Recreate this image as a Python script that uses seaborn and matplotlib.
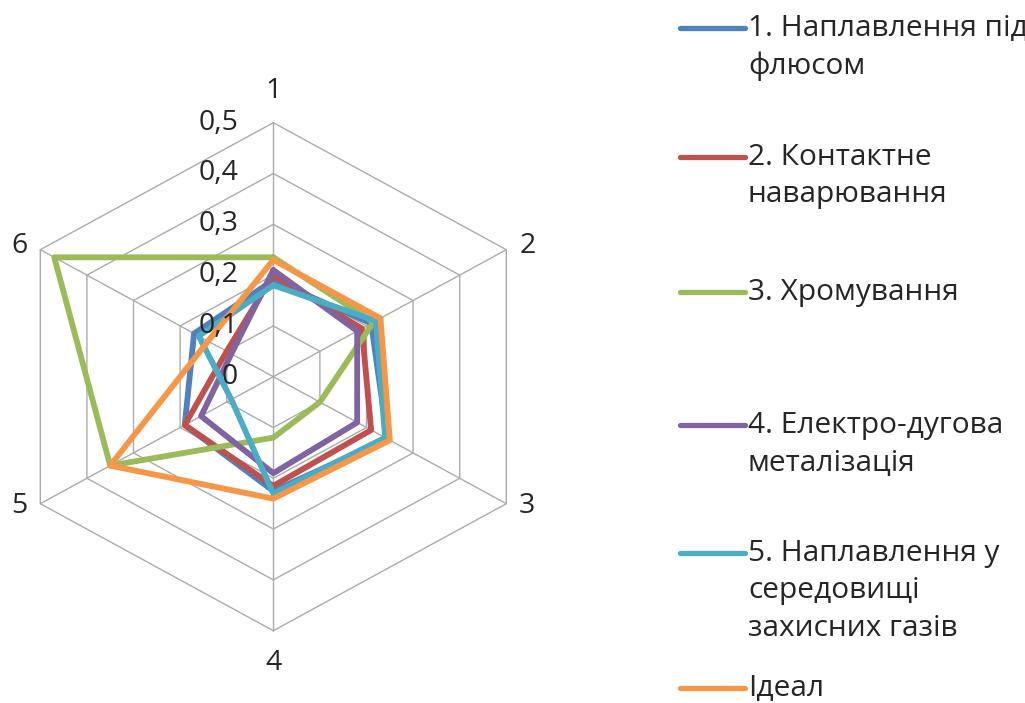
import numpy as np
import pandas as pd
import matplotlib
matplotlib.use("Agg")
import matplotlib.pyplot as plt
from matplotlib.lines import Line2D
import seaborn as sns

# Radar axes 1..6 and the score of each method on them
categories = ["1", "2", "3", "4", "5", "6"]
series_names = [
    "1. Наплавлення під\nфлюсом",
    "2. Контактне\nнаварювання",
    "3. Хромування",
    "4. Електро-дугова\nметалізація",
    "5. Наплавлення у\nсередовищі\nзахисних газів",
    "Ідеал",
]
flux_surfacing = [0.19, 0.21, 0.245, 0.225, 0.19, 0.17]
contact_welding = [0.20, 0.19, 0.21, 0.215, 0.19, 0.10]
chrome_plating = [0.235, 0.215, 0.10, 0.12, 0.35, 0.47]
arc_metallization = [0.21, 0.18, 0.18, 0.19, 0.155, 0.09]
gas_shielded = [0.18, 0.22, 0.24, 0.23, 0.09, 0.16]
ideal = [0.23, 0.23, 0.25, 0.24, 0.35, 0.14]
series_values = [flux_surfacing, contact_welding, chrome_plating,
                 arc_metallization, gas_shielded, ideal]
r_ticks = [0.0, 0.1, 0.2, 0.3, 0.4, 0.5]
r_tick_labels = ["0", "0,1", "0,2", "0,3", "0,4", "0,5"]

colors = ["#4F81BD", "#C0504D", "#9BBB59", "#8064A2", "#4BACC6", "#F79646"]
grid_color = "#ABABAB"
text_color = "#262626"
font_size = 20.5
legend_font_size = 21.5

sns.set_theme(style="white")
plt.rcParams["font.family"] = ["Open Sans", "DejaVu Sans"]

W, H = 1025, 703
cx, cy = 273.3, 376.7          # centre of the radar, pixels from top-left
rx, ry = 233 / np.sin(np.pi / 3), 254   # half-width / half-height of the r=0.5 ellipse
fig = plt.figure(figsize=(W / 100, H / 100), dpi=100)
ax = fig.add_axes([(cx - rx) / W, 1 - (cy + ry) / H, 2 * rx / W, 2 * ry / H],
                  projection="polar")
ax.set_aspect("auto")
ax.set_theta_zero_location("N")
ax.set_theta_direction(-1)
ax.set_ylim(0, 0.5)
ax.grid(False)
ax.spines["polar"].set_visible(False)
ax.patch.set_alpha(0)

n = len(categories)
angles = np.arange(n) * 2 * np.pi / n
angles_closed = np.append(angles, 2 * np.pi)

# hexagonal grid rings and spokes
for level in r_ticks[1:]:
    ax.plot(angles_closed, [level] * (n + 1), color=grid_color, lw=1.0,
            clip_on=False, zorder=1)
for a in angles:
    ax.plot([a, a], [0, r_ticks[-1]], color=grid_color, lw=1.0,
            clip_on=False, zorder=1)

# long-form table for the series polygons (closed back to axis 1)
rows = []
for name, vals in zip(series_names, series_values):
    closed = list(vals) + [vals[0]]
    for th, v in zip(angles_closed, closed):
        rows.append({"series": name, "theta": th, "value": v})
df = pd.DataFrame(rows)

sns.lineplot(data=df, x="theta", y="value", hue="series",
             hue_order=series_names, palette=colors, estimator=None,
             sort=True, lw=4.2, legend=False, ax=ax, zorder=3,
             solid_joinstyle="round", solid_capstyle="round")
ax.set_xlabel("")
ax.set_ylabel("")
ax.set_xticks([])
ax.set_yticks([])
ax.set_ylim(0, 0.5)

# radial value labels along the top spoke
for rv, lab in zip(r_ticks, r_tick_labels):
    ax.annotate(lab, xy=(0, rv), xytext=(-35, 0), textcoords="offset pixels",
                ha="right", va="center", fontsize=font_size, color=text_color,
                zorder=10, annotation_clip=False)

# category labels at the outer vertices
offsets = [(0, 32), (21, 4), (21, -2), (0, -32), (-21, -2), (-21, 4)]
for a, lab, off in zip(angles, categories, offsets):
    ax.annotate(lab, xy=(a, r_ticks[-1]), xytext=off, textcoords="offset pixels",
                ha="center", va="center", fontsize=font_size, color=text_color,
                zorder=10, annotation_clip=False)

# legend column on the right
entry_y = [28, 157, 292, 425, 553, 688]
for name, col, y in zip(series_names, colors, entry_y):
    fig.add_artist(Line2D([680 / W, 745 / W], [1 - y / H, 1 - y / H],
                          color=col, lw=3.8, solid_capstyle="round",
                          transform=fig.transFigure))
    fig.text(748 / W, 1 - (y - 14) / H, name, ha="left", va="top",
             fontsize=legend_font_size, color=text_color, linespacing=1.38)

fig.savefig("out.png", dpi=100)
